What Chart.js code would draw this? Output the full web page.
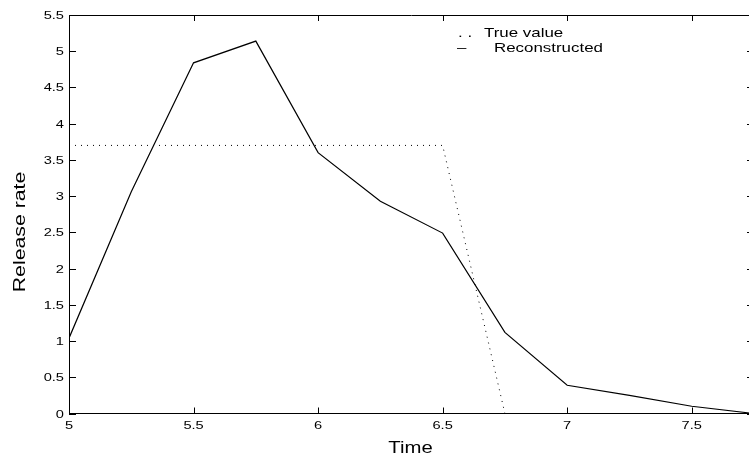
<!DOCTYPE html>
<html>
<head>
<meta charset="utf-8">
<script src="https://cdn.jsdelivr.net/npm/chart.js@4"></script>
<style>
  html, body { margin: 0; padding: 0; background: #fff; overflow: hidden; width: 749px; height: 454px; }
  #wrap { width: 756px; height: 454px; position: relative; }
</style>
</head>
<body>
<div id="wrap"><canvas id="chart"></canvas></div>
<script>
// DATA
var timeSteps = [5, 5.25, 5.5, 5.75, 6, 6.25, 6.5, 6.75, 7, 7.25, 7.5, 7.75];
var reconstructed = [1.04, 3.06, 4.84, 5.14, 3.6, 2.93, 2.49, 1.12, 0.39, 0.25, 0.1, 0];
var trueTimes = [5, 6.5, 6.75];
var trueValues = [3.7, 3.7, 0];
var xTickValues = [5, 5.5, 6, 6.5, 7, 7.5];
var yTickValues = [0, 0.5, 1, 1.5, 2, 2.5, 3, 3.5, 4, 4.5, 5, 5.5];
var xTitle = 'Time';
var yTitle = 'Release rate';
var legendLabels = ['True value', 'Reconstructed'];

var FONT = '"Liberation Sans", Arial, Helvetica, sans-serif';

function toPoints(xs, ys) {
    return xs.map(function (x, i) { return { x: x, y: ys[i] }; });
}

// draw text stretched along its own direction (the reference font is wide)
function wideText(ctx, text, x, y, sx, align, angle) {
    ctx.save();
    ctx.translate(x, y);
    if (angle) ctx.rotate(angle);
    ctx.scale(sx, 1);
    ctx.textAlign = align;
    ctx.fillText(text, 0, 0);
    ctx.restore();
}

var matlabAxes = {
    id: 'matlabAxes',
    afterDraw: function (chart) {
        var ctx = chart.ctx;
        var a = chart.chartArea;
        var xs = chart.scales.x, ys = chart.scales.y;
        ctx.save();
        ctx.strokeStyle = '#000';
        ctx.fillStyle = '#000';
        ctx.lineWidth = 1;

        // box top and right
        ctx.beginPath();
        ctx.moveTo(a.left, a.top + 0.5);
        ctx.lineTo(a.right, a.top + 0.5);
        ctx.moveTo(a.right - 0.5, a.top);
        ctx.lineTo(a.right - 0.5, a.bottom);
        ctx.stroke();

        // inward ticks
        ctx.beginPath();
        xTickValues.forEach(function (v) {
            var px = Math.round(xs.getPixelForValue(v)) + 0.5;
            ctx.moveTo(px, a.bottom); ctx.lineTo(px, a.bottom - 6);
            ctx.moveTo(px, a.top); ctx.lineTo(px, a.top + 6);
        });
        yTickValues.forEach(function (v) {
            var py = Math.round(ys.getPixelForValue(v)) + 0.5;
            ctx.moveTo(a.left, py); ctx.lineTo(a.left + 7, py);
            ctx.moveTo(a.right, py); ctx.lineTo(a.right - 7, py);
        });
        ctx.stroke();

        // tick labels
        ctx.font = '11px ' + FONT;
        ctx.textBaseline = 'alphabetic';
        xTickValues.forEach(function (v) {
            wideText(ctx, String(v), xs.getPixelForValue(v), a.bottom + 15, 1.33, 'center');
        });
        yTickValues.forEach(function (v) {
            wideText(ctx, String(v), a.left - 5, ys.getPixelForValue(v) + 4, 1.33, 'right');
        });

        // axis titles
        ctx.font = '16px ' + FONT;
        wideText(ctx, xTitle, 410.5, 453, 1.27, 'center');
        ctx.font = '17px ' + FONT;
        wideText(ctx, yTitle, 25, 232, 1.25, 'center', -Math.PI / 2);

        // legend
        ctx.font = '13px ' + FONT;
        wideText(ctx, '. .', 458, 37, 1.3, 'left');
        wideText(ctx, legendLabels[0], 484, 37, 1.3, 'left');
        wideText(ctx, '\u2013', 457, 52, 1.3, 'left');
        wideText(ctx, legendLabels[1], 494, 52, 1.3, 'left');
        ctx.restore();
    }
};

var ctx = document.getElementById('chart').getContext('2d');
var chart = new Chart(ctx, {
    type: 'line',
    data: {
        datasets: [{
            label: legendLabels[0],
            data: toPoints(trueTimes, trueValues),
            borderColor: '#000',
            borderWidth: 1,
            borderDash: [1, 5],
            pointRadius: 0,
            tension: 0,
            fill: false
        }, {
            label: legendLabels[1],
            data: toPoints(timeSteps, reconstructed),
            borderColor: '#000',
            borderWidth: 1.2,
            pointRadius: 0,
            tension: 0,
            fill: false
        }]
    },
    options: {
        responsive: true,
        maintainAspectRatio: false,
        animation: false,
        events: [],
        layout: { padding: { top: 15, left: 0, right: 2, bottom: 0 } },
        plugins: {
            legend: { display: false },
            tooltip: { enabled: false }
        },
        scales: {
            x: {
                type: 'linear',
                min: 5,
                max: 7.75,
                afterBuildTicks: function (scale) {
                    scale.ticks = xTickValues.map(function (v) { return { value: v }; });
                },
                afterFit: function (scale) { scale.height = 40.5; },
                ticks: { display: false },
                grid: { display: false },
                border: { display: true, color: '#000', width: 1 }
            },
            y: {
                type: 'linear',
                min: 0,
                max: 5.5,
                afterBuildTicks: function (scale) {
                    scale.ticks = yTickValues.map(function (v) { return { value: v }; });
                },
                afterFit: function (scale) { scale.width = 69; },
                ticks: { display: false },
                grid: { display: false },
                border: { display: true, color: '#000', width: 1 }
            }
        }
    },
    plugins: [matlabAxes]
});
</script>
</body>
</html>
